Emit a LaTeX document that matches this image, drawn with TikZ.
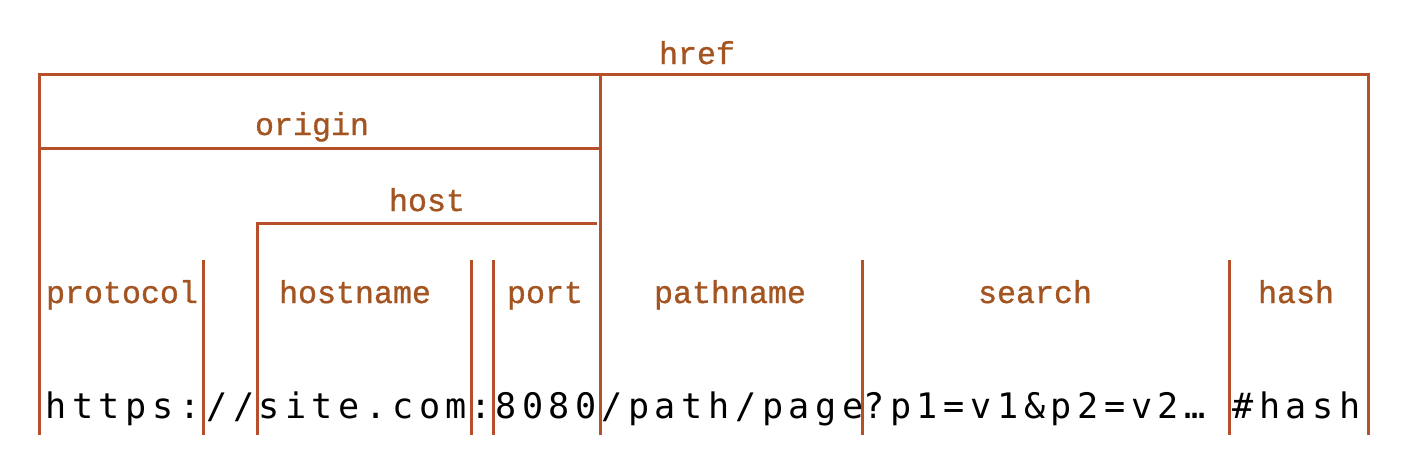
\documentclass[tikz,border=0pt]{standalone}
\usepackage{fontspec}
\newfontfamily\partfont[FakeBold=1]{Liberation Mono}
\newfontfamily\urlfont[LetterSpace=16]{DejaVu Sans Mono}
\definecolor{barcolor}{RGB}{181,80,42}
\definecolor{partcolor}{RGB}{164,84,32}

\begin{document}
\begin{tikzpicture}[x=0.02cm, y=-0.02cm,
                    bar/.style={draw=barcolor, line width=0.06cm},
                    part/.style={font=\partfont\fontsize{18}{20}\selectfont, text=partcolor, inner sep=0pt, anchor=base},
                    piece/.style={font=\urlfont\fontsize{20}{22}\selectfont, inner sep=0pt, anchor=base west}]
\useasboundingbox (0,0) rectangle (1402,458);

% corners of the brackets
\coordinate (hrefL) at (39,74);
\coordinate (hrefR) at (1368,74);
\coordinate (originL) at (39,148);
\coordinate (mid) at (600,74);
\coordinate (hostL) at (257,223);
\coordinate (hostR) at (597,223);
\coordinate (ground) at (0,435);

% brackets
\draw[bar] (hrefL |- ground) -- (hrefL) -- (hrefR) -- (hrefR |- ground);
\draw[bar] (originL) -- (originL -| mid);
\draw[bar] (mid) -- (mid |- ground);
\draw[bar] (hostL |- ground) -- (hostL) -- (hostR);
\foreach \x in {203,471,493,862,1229}
	\draw[bar] (\x,260) -- (\x,435);

% labels
\node[part] (href) at (697,64) {href};
\node[part] (origin) at (312,135) {origin};
\node[part] (host) at (427,211) {host};
\node[part] (protocol) at (122,303) {protocol};
\node[part] (hostname) at (355,303) {hostname};
\node[part] (port) at (545,303) {port};
\node[part] (pathname) at (730,303) {pathname};
\node[part] (search) at (1035,303) {search};
\node[part] (hash) at (1296,303) {hash};

% the url itself
\node[piece] (scheme) at (45,418) {https:};
\node[piece] (slashes) at (206,418) {//};
\node[piece] (site) at (258,418) {site.com};
\node[piece] (colon) at (470,418) {:};
\node[piece] (number) at (495,418) {8080};
\node[piece] (path) at (601,418) {/path/page};
\node[piece] (query) at (863,418) {?p1=v1\&p2=v2…};
\node[piece] (frag) at (1232,418) {\#hash};
\end{tikzpicture}
\end{document}
